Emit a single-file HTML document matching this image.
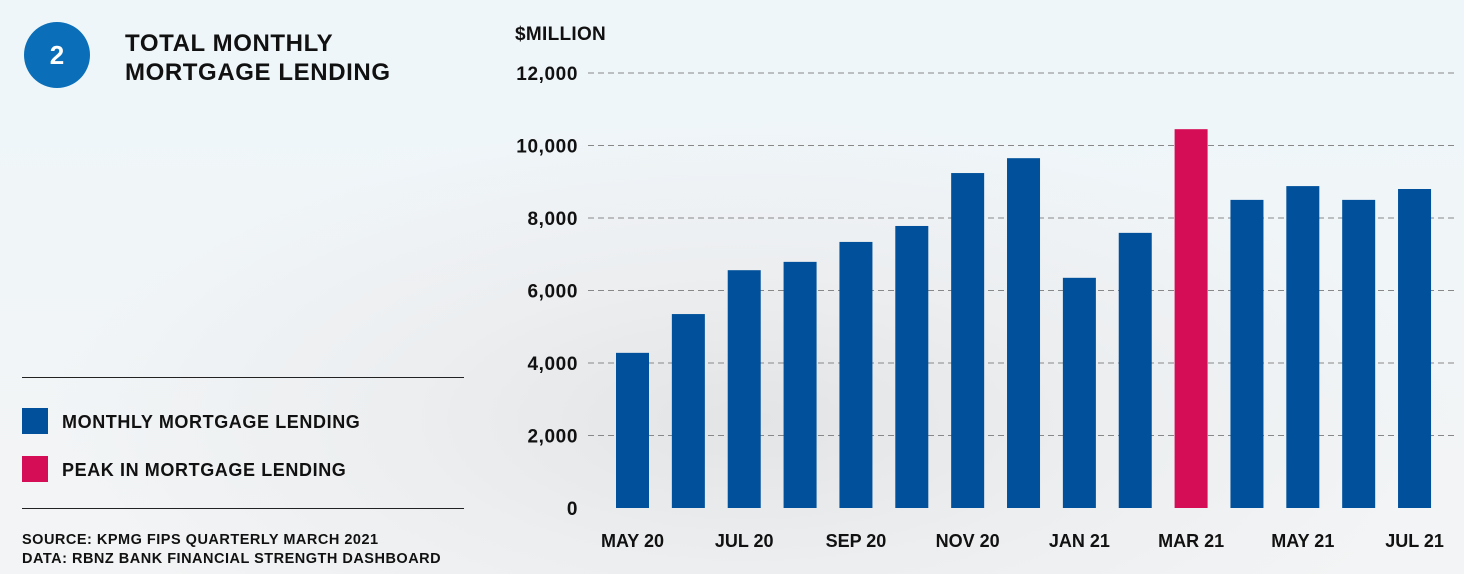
<!DOCTYPE html>
<html><head><meta charset="utf-8"><style>
body{margin:0;width:1464px;height:574px;overflow:hidden;font-family:"Liberation Sans",sans-serif;font-weight:bold;}
#bg{position:absolute;left:0;top:0;width:1464px;height:574px;background:radial-gradient(ellipse 700px 300px at 750px 420px,#e2e4e6 0%,#eceef0 50%,rgba(240,246,250,0) 100%),linear-gradient(180deg,#eef6fa 0%,#f1f5f7 60%,#f3f4f5 100%);}
.t{position:absolute;color:#111;white-space:nowrap;}
</style></head><body>
<div id="bg"></div>
<div style="position:absolute;left:24px;top:22px;width:66px;height:66px;border-radius:50%;background:#0a6fb8;color:#fff;font-size:26px;line-height:66px;text-align:center;">2</div>
<div class="t" style="left:125px;top:29px;font-size:24px;line-height:29px;letter-spacing:0.6px;">TOTAL MONTHLY<br>MORTGAGE LENDING</div>
<div class="t" style="left:515px;top:24px;font-size:19px;letter-spacing:0.3px;">$MILLION</div>
<div style="position:absolute;left:22px;top:377px;width:442px;height:1px;background:#222;"></div>
<div style="position:absolute;left:22px;top:408px;width:26px;height:26px;background:#00509b;"></div>
<div class="t" style="left:62px;top:412px;font-size:18px;letter-spacing:0.6px;">MONTHLY MORTGAGE LENDING</div>
<div style="position:absolute;left:22px;top:456px;width:26px;height:26px;background:#d50d56;"></div>
<div class="t" style="left:62px;top:460px;font-size:18px;letter-spacing:0.6px;">PEAK IN MORTGAGE LENDING</div>
<div style="position:absolute;left:22px;top:508px;width:442px;height:1px;background:#222;"></div>
<div class="t" style="left:22px;top:531px;font-size:14.5px;line-height:19px;letter-spacing:0.5px;">SOURCE: KPMG FIPS QUARTERLY MARCH 2021<br>DATA: RBNZ BANK FINANCIAL STRENGTH DASHBOARD</div>
<svg id="chart" width="1464" height="574" style="position:absolute;left:0;top:0;font-family:'Liberation Sans',sans-serif;font-weight:bold;"></svg>
<script>
const categories=["MAY 20","JUN 20","JUL 20","AUG 20","SEP 20","OCT 20","NOV 20","DEC 20","JAN 21","FEB 21","MAR 21","APR 21","MAY 21","JUN 21","JUL 21"];
const values=[4280,5350,6560,6790,7340,7780,9240,9650,6350,7590,10450,8500,8880,8500,8800];
const peakIndex=[10];
const yTicks=[0,2000,4000,6000,8000,10000,12000];
const yTickLabels=["0","2,000","4,000","6,000","8,000","10,000","12,000"];
const xLabelIdx=[0,2,4,6,8,10,12,14];
const svg=document.getElementById('chart');const NS="http://www.w3.org/2000/svg";
const y0=508,y1=73,x0=632.5,step=55.86,bw=33;
const y=v=>y0-(v/12000)*(y0-y1);
const x=i=>x0+i*step;
function mk(t,a){const e=document.createElementNS(NS,t);for(const k in a)e.setAttribute(k,a[k]);svg.appendChild(e);return e;}
yTicks.forEach((v,i)=>{
 if(v>0){const l=mk('line',{x1:588,x2:1455,y1:y(v),y2:y(v),stroke:'#888','stroke-width':1,'stroke-dasharray':'6,4'});
 
 }
 const t=mk('text',{x:578,y:y(v)+7,'text-anchor':'end','font-size':19,'letter-spacing':0.6,fill:'#111'});t.textContent=yTickLabels[i];
 
 
});
values.forEach((v,i)=>{
 const r=mk('rect',{x:x(i)-bw/2,y:y(v),width:bw,height:y0-y(v),fill:peakIndex.includes(i)?'#d50d56':'#00509b'});
 
 
});
xLabelIdx.forEach(i=>{
 const t=mk('text',{x:x(i),y:547,'text-anchor':'middle','font-size':18,fill:'#111'});t.textContent=categories[i];
 
 
});
</script>
</body></html>
